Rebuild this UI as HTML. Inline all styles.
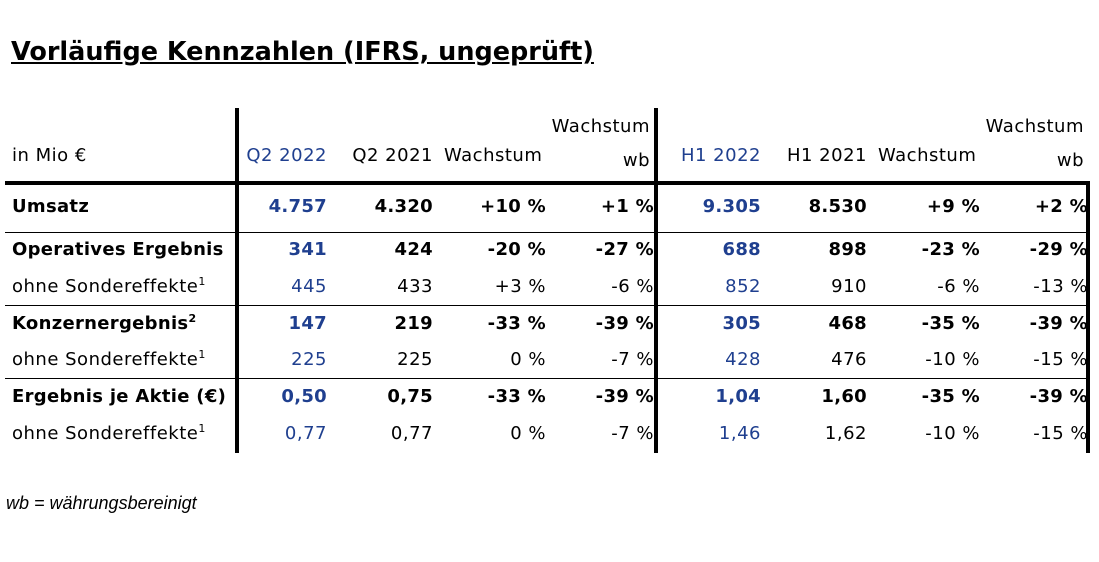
<!DOCTYPE html>
<html><head><meta charset="utf-8"><style>
body{margin:0;width:1099px;height:562px;background:#fff;position:relative;overflow:hidden;font-family:"DejaVu Sans","Liberation Sans",sans-serif;font-size:18px;letter-spacing:0.5px;color:#000}
.t{position:absolute;line-height:20px;height:20px;white-space:nowrap}
.r{text-align:right}
.b{font-weight:bold;letter-spacing:0.3px}
.bl{color:#1f3f8f}
.l{position:absolute;background:#000}
sup{font-size:11px;vertical-align:7px;line-height:0;letter-spacing:0}
</style></head><body>
<div class="t b" style="left:11px;top:37px;font-size:25.5px;line-height:30px;height:30px;letter-spacing:0;text-decoration:underline">Vorläufige Kennzahlen (IFRS, ungeprüft)</div>

<div class="l" style="left:235px;top:108px;width:4px;height:345px"></div>
<div class="l" style="left:654px;top:108px;width:4px;height:345px"></div>
<div class="l" style="left:1086px;top:182px;width:4px;height:271px"></div>
<div class="l" style="left:5px;top:181px;width:1085px;height:4px"></div>
<div class="l" style="left:5px;top:232px;width:1085px;height:1px"></div>
<div class="l" style="left:5px;top:305px;width:1085px;height:1px"></div>
<div class="l" style="left:5px;top:378px;width:1085px;height:1px"></div>

<div class="t" style="left:12px;top:146px">in Mio €</div>
<div class="t r bl" style="right:772px;top:146px">Q2 2022</div>
<div class="t r" style="right:666px;top:146px">Q2 2021</div>
<div class="t" style="left:444px;top:146px">Wachstum</div>
<div class="t r" style="right:449px;top:117px">Wachstum</div>
<div class="t r" style="right:449px;top:151px">wb</div>
<div class="t r bl" style="right:338px;top:146px">H1 2022</div>
<div class="t r" style="right:232px;top:146px">H1 2021</div>
<div class="t" style="left:878px;top:146px">Wachstum</div>
<div class="t r" style="right:15px;top:117px">Wachstum</div>
<div class="t r" style="right:15px;top:151px">wb</div>

<div class="t b" style="left:12px;top:197px">Umsatz</div>
<div class="t b" style="left:12px;top:240px">Operatives Ergebnis</div>
<div class="t" style="left:12px;top:277px">ohne Sondereffekte<sup>1</sup></div>
<div class="t b" style="left:12px;top:314px">Konzernergebnis<sup>2</sup></div>
<div class="t" style="left:12px;top:350px">ohne Sondereffekte<sup>1</sup></div>
<div class="t b" style="left:12px;top:387px">Ergebnis je Aktie (€)</div>
<div class="t" style="left:12px;top:424px">ohne Sondereffekte<sup>1</sup></div>

<div class="t r b bl" style="right:772px;top:197px">4.757</div>
<div class="t r b" style="right:666px;top:197px">4.320</div>
<div class="t r b" style="right:553px;top:197px">+10 %</div>
<div class="t r b" style="right:445px;top:197px">+1 %</div>
<div class="t r b bl" style="right:338px;top:197px">9.305</div>
<div class="t r b" style="right:232px;top:197px">8.530</div>
<div class="t r b" style="right:119px;top:197px">+9 %</div>
<div class="t r b" style="right:11px;top:197px">+2 %</div>

<div class="t r b bl" style="right:772px;top:240px">341</div>
<div class="t r b" style="right:666px;top:240px">424</div>
<div class="t r b" style="right:553px;top:240px">-20 %</div>
<div class="t r b" style="right:445px;top:240px">-27 %</div>
<div class="t r b bl" style="right:338px;top:240px">688</div>
<div class="t r b" style="right:232px;top:240px">898</div>
<div class="t r b" style="right:119px;top:240px">-23 %</div>
<div class="t r b" style="right:11px;top:240px">-29 %</div>

<div class="t r bl" style="right:772px;top:277px">445</div>
<div class="t r" style="right:666px;top:277px">433</div>
<div class="t r" style="right:553px;top:277px">+3 %</div>
<div class="t r" style="right:445px;top:277px">-6 %</div>
<div class="t r bl" style="right:338px;top:277px">852</div>
<div class="t r" style="right:232px;top:277px">910</div>
<div class="t r" style="right:119px;top:277px">-6 %</div>
<div class="t r" style="right:11px;top:277px">-13 %</div>

<div class="t r b bl" style="right:772px;top:314px">147</div>
<div class="t r b" style="right:666px;top:314px">219</div>
<div class="t r b" style="right:553px;top:314px">-33 %</div>
<div class="t r b" style="right:445px;top:314px">-39 %</div>
<div class="t r b bl" style="right:338px;top:314px">305</div>
<div class="t r b" style="right:232px;top:314px">468</div>
<div class="t r b" style="right:119px;top:314px">-35 %</div>
<div class="t r b" style="right:11px;top:314px">-39 %</div>

<div class="t r bl" style="right:772px;top:350px">225</div>
<div class="t r" style="right:666px;top:350px">225</div>
<div class="t r" style="right:553px;top:350px">0 %</div>
<div class="t r" style="right:445px;top:350px">-7 %</div>
<div class="t r bl" style="right:338px;top:350px">428</div>
<div class="t r" style="right:232px;top:350px">476</div>
<div class="t r" style="right:119px;top:350px">-10 %</div>
<div class="t r" style="right:11px;top:350px">-15 %</div>

<div class="t r b bl" style="right:772px;top:387px">0,50</div>
<div class="t r b" style="right:666px;top:387px">0,75</div>
<div class="t r b" style="right:553px;top:387px">-33 %</div>
<div class="t r b" style="right:445px;top:387px">-39 %</div>
<div class="t r b bl" style="right:338px;top:387px">1,04</div>
<div class="t r b" style="right:232px;top:387px">1,60</div>
<div class="t r b" style="right:119px;top:387px">-35 %</div>
<div class="t r b" style="right:11px;top:387px">-39 %</div>

<div class="t r bl" style="right:772px;top:424px">0,77</div>
<div class="t r" style="right:666px;top:424px">0,77</div>
<div class="t r" style="right:553px;top:424px">0 %</div>
<div class="t r" style="right:445px;top:424px">-7 %</div>
<div class="t r bl" style="right:338px;top:424px">1,46</div>
<div class="t r" style="right:232px;top:424px">1,62</div>
<div class="t r" style="right:119px;top:424px">-10 %</div>
<div class="t r" style="right:11px;top:424px">-15 %</div>

<div class="t" style="left:6px;top:493px;font-family:'Liberation Sans',sans-serif;font-style:italic;font-size:18px;letter-spacing:0">wb = währungsbereinigt</div>
</body></html>
